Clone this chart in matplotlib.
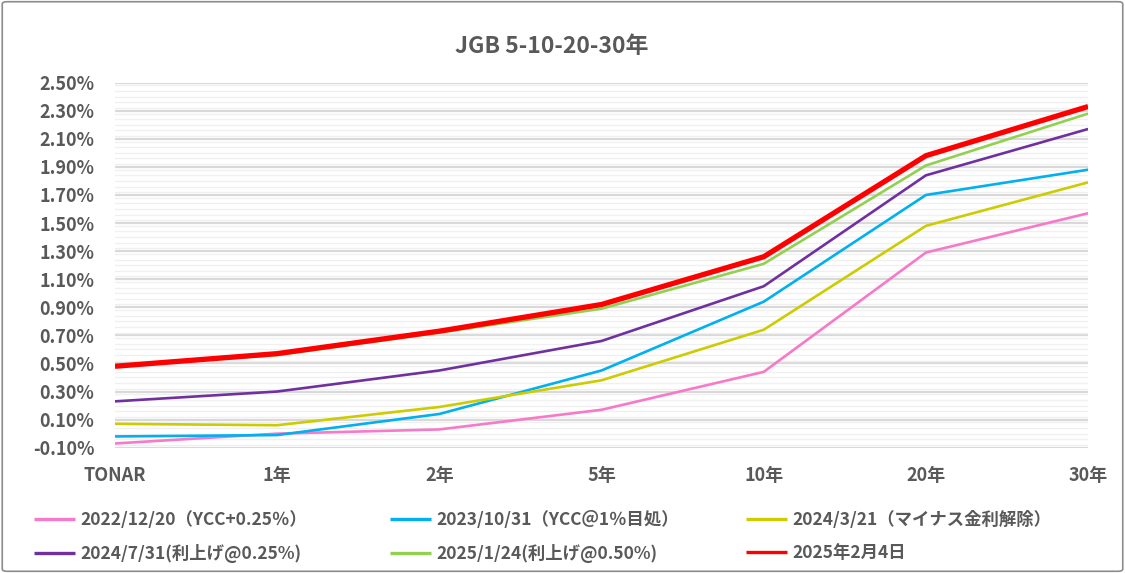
import matplotlib
matplotlib.use('Agg')
import matplotlib.pyplot as plt
from matplotlib.patches import FancyBboxPatch
from matplotlib.ticker import MultipleLocator, FuncFormatter
import numpy as np

plt.rcParams['font.family'] = ['Noto Sans CJK JP', 'DejaVu Sans']

# data (yields in %)
tenors = ['TONAR', '1年', '2年', '5年', '10年', '20年', '30年']
y_20221220 = [-0.07, 0.00, 0.03, 0.17, 0.44, 1.29, 1.57]
y_20231031 = [-0.02, -0.01, 0.14, 0.45, 0.94, 1.70, 1.88]
y_20240321 = [0.07, 0.06, 0.19, 0.38, 0.74, 1.48, 1.79]
y_20240731 = [0.23, 0.30, 0.45, 0.66, 1.05, 1.84, 2.17]
y_20250124 = [0.48, 0.56, 0.72, 0.89, 1.21, 1.91, 2.28]
y_20250204 = [0.48, 0.57, 0.73, 0.92, 1.26, 1.98, 2.33]

labels = ['2022/12/20（YCC+0.25％）', '2023/10/31（YCC＠1％目処）', '2024/3/21（マイナス金利解除）',
          '2024/7/31(利上げ@0.25%)', '2025/1/24(利上げ@0.50%)', '2025年2月4日']
colors = ['#F779C9', '#00B0F0', '#CCCC00', '#7030A0', '#92D050', '#FF0000']
series = [y_20221220, y_20231031, y_20240321, y_20240731, y_20250124, y_20250204]

text_col = '#595959'

fig = plt.figure(figsize=(11.25, 5.73), dpi=100)
ax = fig.add_axes([0.1022, 0.2187, 0.8650, 0.6370])

x = np.arange(len(tenors))
handles = []
for vals, lab, c in zip(series, labels, colors):
    lw = 3.8 if c == '#FF0000' else 1.9
    h, = ax.plot(x, vals, color=c, lw=lw, label=lab, solid_joinstyle='round', solid_capstyle='butt', zorder=3)
    handles.append(h)

ax.set_xlim(0, len(tenors) - 1)
ax.set_ylim(-0.10, 2.50)
ax.yaxis.set_minor_locator(MultipleLocator(0.04))
ax.set_yticks(np.arange(-0.10, 2.51, 0.2))
ax.yaxis.set_major_formatter(FuncFormatter(lambda v, p: '%.2f%%' % v))
ax.grid(which='major', axis='y', color='#D9D9D9', lw=1.6)
ax.grid(which='minor', axis='y', color='#F0F0F0', lw=1.0)
ax.set_axisbelow(True)
ax.set_xticks(x)
ax.set_xticklabels(tenors)

for s in ax.spines.values():
    s.set_visible(False)
ax.tick_params(axis='both', which='both', length=0, colors=text_col)
ax.tick_params(axis='y', pad=15, labelsize=13)
ax.tick_params(axis='x', pad=13, labelsize=13)
for t in ax.get_xticklabels() + ax.get_yticklabels():
    t.set_fontweight('bold')

fig.text(0.49, 0.918, 'JGB 5-10-20-30年', ha='center', va='center', fontsize=16.5,
         fontweight='bold', color=text_col)

# legend: one small legend per column, two rows each
col_x = [34, 390, 746]
for j in range(3):
    idx = [j, j + 3]
    leg = fig.legend([handles[i] for i in idx], [labels[i] for i in idx],
                     loc='upper left', bbox_to_anchor=(col_x[j] / 1125, 1 - 511 / 573),
                     frameon=False, borderpad=0, borderaxespad=0,
                     handlelength=2.35, handletextpad=0.3, labelspacing=0.87,
                     prop={'size': 12.5, 'weight': 'bold'})
    for t in leg.get_texts():
        t.set_color(text_col)
    for lh in leg.get_lines():
        lh.set_linewidth(2.4)

border = FancyBboxPatch((0.002, 0.003), 0.996, 0.994, boxstyle='round,pad=0,rounding_size=0.004',
                        transform=fig.transFigure, fill=False, edgecolor='#8C8C8C', lw=1.2)
fig.patches.append(border)

fig.savefig('out.png', dpi=100)
